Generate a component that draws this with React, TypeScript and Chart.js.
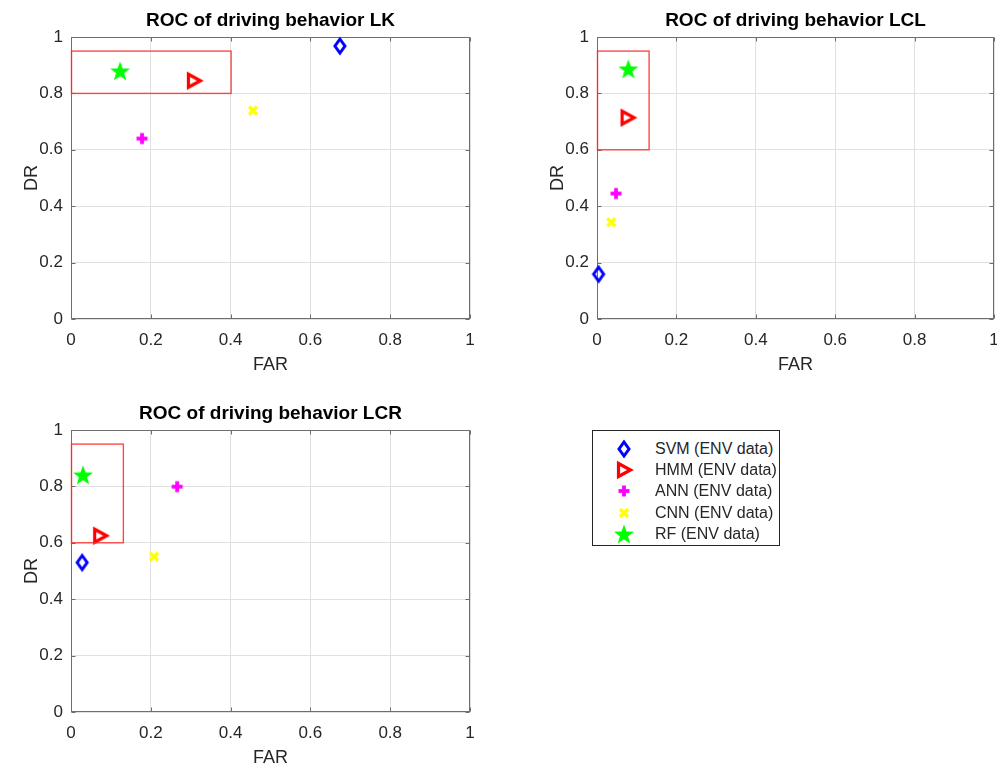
import React, { useEffect, useRef } from 'react';
import { Chart, registerables } from 'chart.js';

Chart.register(...registerables);

const FONT = '"Liberation Sans", Arial, Helvetica, sans-serif';

const models = ['SVM (ENV data)', 'HMM (ENV data)', 'ANN (ENV data)', 'CNN (ENV data)', 'RF (ENV data)'];
const markerKinds = ['diamond', 'triangleRight', 'plus', 'cross', 'star'];
const markerColors = ['#0000ff', '#ff0000', '#ff00ff', '#ffff00', '#00ff00'];

const tickValues = [0, 0.2, 0.4, 0.6, 0.8, 1];
const tickLabels = ['0', '0.2', '0.4', '0.6', '0.8', '1'];

const lkFAR = [0.674, 0.308, 0.178, 0.456, 0.123];
const lkDR = [0.968, 0.845, 0.64, 0.739, 0.88];
const lkBox = [0, 0.4, 0.8, 0.95];

const lclFAR = [0.004, 0.077, 0.048, 0.036, 0.079];
const lclDR = [0.159, 0.714, 0.445, 0.343, 0.887];
const lclBox = [0, 0.13, 0.6, 0.95];

const lcrFAR = [0.028, 0.073, 0.266, 0.208, 0.03];
const lcrDR = [0.53, 0.625, 0.799, 0.551, 0.841];
const lcrBox = [0, 0.13, 0.6, 0.95];

function drawMarker(ctx: CanvasRenderingContext2D, kind: string, color: string, cx: number, cy: number) {
  ctx.save();
  ctx.strokeStyle = color;
  ctx.fillStyle = color;
  ctx.lineJoin = 'miter';
  if (kind === 'diamond') {
    ctx.lineWidth = 3;
    ctx.beginPath();
    ctx.moveTo(cx, cy - 7);
    ctx.lineTo(cx + 5, cy);
    ctx.lineTo(cx, cy + 7);
    ctx.lineTo(cx - 5, cy);
    ctx.closePath();
    ctx.stroke();
  } else if (kind === 'triangleRight') {
    ctx.lineWidth = 3.2;
    ctx.beginPath();
    ctx.moveTo(cx - 5.5, cy - 6.5);
    ctx.lineTo(cx + 6.5, cy);
    ctx.lineTo(cx - 5.5, cy + 6.5);
    ctx.closePath();
    ctx.stroke();
  } else if (kind === 'plus') {
    ctx.fillRect(cx - 1.9, cy - 5.5, 3.8, 11);
    ctx.fillRect(cx - 5.5, cy - 1.9, 11, 3.8);
  } else if (kind === 'cross') {
    ctx.lineWidth = 3.4;
    ctx.beginPath();
    ctx.moveTo(cx - 4, cy - 4);
    ctx.lineTo(cx + 4, cy + 4);
    ctx.moveTo(cx + 4, cy - 4);
    ctx.lineTo(cx - 4, cy + 4);
    ctx.stroke();
  } else if (kind === 'star') {
    const R = 10.5;
    const r = 4.3;
    ctx.beginPath();
    for (let i = 0; i < 10; i++) {
      const rad = i % 2 === 0 ? R : r;
      const ang = -Math.PI / 2 + (i * Math.PI) / 5;
      const px = cx + rad * Math.cos(ang);
      const py = cy + 1 + rad * Math.sin(ang);
      if (i === 0) ctx.moveTo(px, py);
      else ctx.lineTo(px, py);
    }
    ctx.closePath();
    ctx.fill();
  }
  ctx.restore();
}

function makeMarker(kind: string, color: string): HTMLCanvasElement {
  const c = document.createElement('canvas');
  c.width = 24;
  c.height = 24;
  const ctx = c.getContext('2d')!;
  drawMarker(ctx, kind, color, 12, 12);
  return c;
}

const framePlugin = {
  id: 'frame',
  beforeDatasetsDraw(chart: any) {
    const { ctx, chartArea: a, scales } = chart;
    const L = Math.round(a.left) + 0.5;
    const R = Math.round(a.right) - 0.5;
    const T = Math.round(a.top) + 0.5;
    const B = Math.round(a.bottom) - 0.5;
    ctx.save();
    ctx.strokeStyle = '#6e6e6e';
    ctx.lineWidth = 1;
    ctx.strokeRect(L, T, R - L, B - T);
    ctx.beginPath();
    for (const v of tickValues) {
      const x = Math.round(scales.x.getPixelForValue(v)) + 0.5;
      ctx.moveTo(x, B);
      ctx.lineTo(x, B - 4);
      ctx.moveTo(x, T);
      ctx.lineTo(x, T + 4);
      const y = Math.round(scales.y.getPixelForValue(v)) + 0.5;
      ctx.moveTo(L, y);
      ctx.lineTo(L + 4, y);
      ctx.moveTo(R, y);
      ctx.lineTo(R - 4, y);
    }
    ctx.stroke();
    ctx.restore();
  },
  afterDatasetsDraw(chart: any, _args: any, opts: any) {
    const box = opts.rect;
    if (!box) return;
    const { ctx, scales } = chart;
    const x0 = scales.x.getPixelForValue(box[0]);
    const x1 = scales.x.getPixelForValue(box[1]);
    const y0 = scales.y.getPixelForValue(box[2]);
    const y1 = scales.y.getPixelForValue(box[3]);
    ctx.save();
    ctx.strokeStyle = 'rgba(255,40,40,0.85)';
    ctx.lineWidth = 1.4;
    ctx.strokeRect(x0 + 0.5, y1, x1 - x0, y0 - y1);
    ctx.restore();
  },
};

function RocChart(props: { title: string; far: number[]; dr: number[]; box: number[]; left: number; top: number; width: number; padRight: number }) {
  const ref = useRef<HTMLCanvasElement>(null);
  useEffect(() => {
    const datasets = models.map((name, i) => ({
      label: name,
      data: [{ x: props.far[i], y: props.dr[i] }],
      pointStyle: makeMarker(markerKinds[i], markerColors[i]) as any,
      pointRadius: 10,
      clip: false as any,
    }));
    const chart = new Chart(ref.current!, {
      type: 'scatter',
      data: { datasets },
      plugins: [framePlugin as any],
      options: {
        animation: false,
        responsive: false,
        maintainAspectRatio: false,
        events: [],
        layout: { padding: { left: 0, right: props.padRight, top: 0, bottom: 0 } },
        plugins: {
          legend: { display: false },
          tooltip: { enabled: false },
          title: {
            display: true,
            fullSize: false,
            text: props.title,
            color: '#000000',
            font: { family: FONT, size: 19, weight: 'bold', lineHeight: 1 },
            padding: { top: 11, bottom: 7 },
          },
          frame: { rect: props.box },
        } as any,
        scales: {
          x: {
            type: 'linear',
            min: 0,
            max: 1,
            border: { display: false },
            grid: { color: '#e0e0e0', drawTicks: false },
            ticks: {
              color: '#262626',
              font: { family: FONT, size: 17, lineHeight: 1 },
              padding: 13,
              maxRotation: 0,
              autoSkip: false,
              callback: (_v: any, i: number) => tickLabels[i],
            },
            afterBuildTicks: (s: any) => {
              s.ticks = tickValues.map((v) => ({ value: v }));
            },
            afterFit: (s: any) => {
              s.height = 66;
              s.paddingLeft = 0;
              s.paddingRight = 0;
            },
            title: {
              display: true,
              text: 'FAR',
              color: '#262626',
              font: { family: FONT, size: 18, lineHeight: 1 },
              padding: { top: 0, bottom: 11 },
            },
          },
          y: {
            type: 'linear',
            min: 0,
            max: 1,
            border: { display: false },
            grid: { color: '#e0e0e0', drawTicks: false },
            ticks: {
              color: '#262626',
              font: { family: FONT, size: 17, lineHeight: 1 },
              padding: 8,
              autoSkip: false,
              callback: (_v: any, i: number) => tickLabels[i],
            },
            afterBuildTicks: (s: any) => {
              s.ticks = tickValues.map((v) => ({ value: v }));
            },
            afterFit: (s: any) => {
              s.width = 71;
              s.paddingTop = 0;
              s.paddingBottom = 0;
            },
            title: {
              display: true,
              text: 'DR',
              color: '#262626',
              font: { family: FONT, size: 18, lineHeight: 1 },
              padding: { top: 23, bottom: 0 },
            },
          },
        } as any,
      },
    });
    return () => chart.destroy();
  }, []);
  return (
    <canvas
      ref={ref}
      width={props.width}
      height={385}
      style={{ position: 'absolute', left: props.left, top: props.top, width: props.width, height: 385 }}
    />
  );
}

function LegendMarker(props: { kind: string; color: string }) {
  const ref = useRef<HTMLCanvasElement>(null);
  useEffect(() => {
    const ctx = ref.current!.getContext('2d')!;
    ctx.clearRect(0, 0, 24, 24);
    drawMarker(ctx, props.kind, props.color, 12, 12);
  }, []);
  return <canvas ref={ref} width={24} height={24} style={{ position: 'absolute', left: 19, top: -12, width: 24, height: 24 }} />;
}

function Legend() {
  return (
    <div
      style={{
        position: 'absolute',
        left: 592,
        top: 430,
        width: 186,
        height: 114,
        border: '1px solid #262626',
        background: '#ffffff',
        fontFamily: FONT,
        fontSize: 16,
        color: '#262626',
      }}
    >
      {models.map((m, i) => (
        <div key={m} style={{ position: 'absolute', left: 0, top: 17.5 + i * 21.4, width: 186, height: 0 }}>
          <LegendMarker kind={markerKinds[i]} color={markerColors[i]} />
          <span style={{ position: 'absolute', left: 62, top: -10, lineHeight: '20px', whiteSpace: 'nowrap' }}>{m}</span>
        </div>
      ))}
    </div>
  );
}

export default function App() {
  return (
    <div style={{ position: 'absolute', left: 0, top: 0, width: 997, height: 767, overflow: 'hidden', background: '#ffffff' }}>
      <RocChart title="ROC of driving behavior LK" far={lkFAR} dr={lkDR} box={lkBox} left={0} top={0} width={500} padRight={30} />
      <RocChart title="ROC of driving behavior LCL" far={lclFAR} dr={lclDR} box={lclBox} left={526} top={0} width={482} padRight={14} />
      <RocChart title="ROC of driving behavior LCR" far={lcrFAR} dr={lcrDR} box={lcrBox} left={0} top={393} width={500} padRight={30} />
      <Legend />
    </div>
  );
}
